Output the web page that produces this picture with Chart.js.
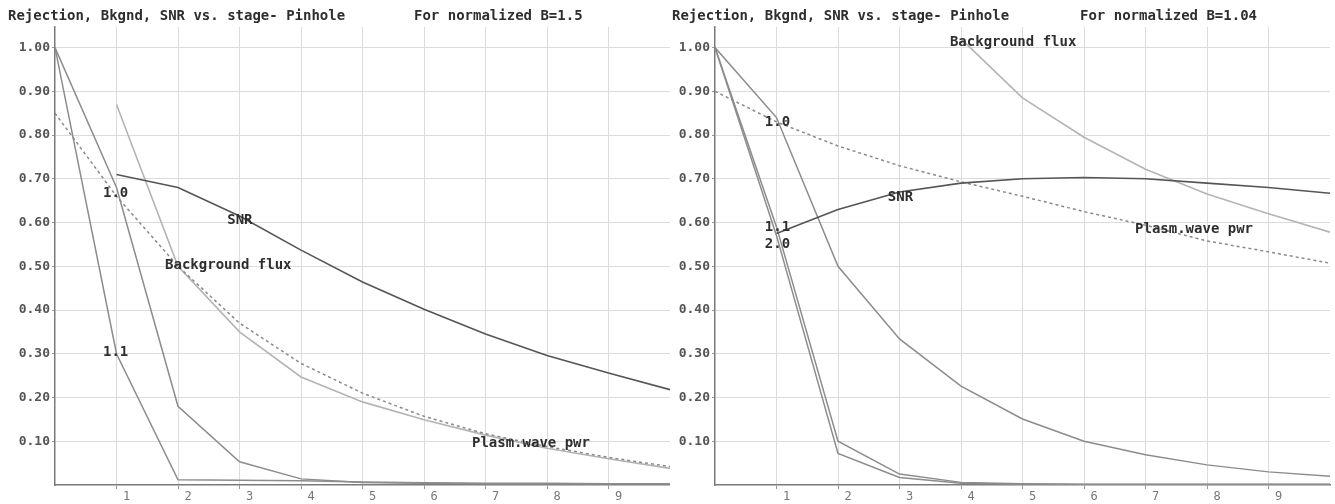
<!DOCTYPE html>
<html><head><meta charset="utf-8">
<script src="https://cdn.jsdelivr.net/npm/chart.js@4/dist/chart.umd.min.js"></script>
<style>
html,body{margin:0;padding:0;background:#fff;width:1335px;height:504px;overflow:hidden}
canvas{position:absolute;top:0}
#cL{left:0}
#cR{left:660px}
</style></head><body>
<canvas id="cL" width="670" height="504"></canvas>
<canvas id="cR" width="675" height="504"></canvas>
<script>
// ---------- data ----------
const stages = [0, 1, 2, 3, 4, 5, 6, 7, 8, 9, 10];
const xTickValues = [1, 2, 3, 4, 5, 6, 7, 8, 9];
const xTickLabels = ['1', '2', '3', '4', '5', '6', '7', '8', '9'];
const yTickValues = [0.1, 0.2, 0.3, 0.4, 0.5, 0.6, 0.7, 0.8, 0.9, 1.0];
const yTickLabels = ['0.10', '0.20', '0.30', '0.40', '0.50', '0.60', '0.70', '0.80', '0.90', '1.00'];

const titleMain = 'Rejection, Bkgnd, SNR vs. stage- Pinhole';
const titleLeft = 'For normalized B=1.5';
const titleRight = 'For normalized B=1.04';

// Left panel, B = 1.5
const leftRej10 = [1.00, 0.68, 0.18, 0.053, 0.014, 0.006, 0.004, 0.003, 0.003, 0.003, 0.003];
const leftRej11 = [1.00, 0.30, 0.012, 0.011, 0.010, 0.007, 0.005, 0.004, 0.004, 0.003, 0.003];
const leftSNR   = [null, 0.71, 0.68, 0.615, 0.537, 0.464, 0.402, 0.345, 0.296, 0.256, 0.218];
const leftBg    = [null, 0.87, 0.50, 0.35, 0.247, 0.19, 0.149, 0.114, 0.084, 0.060, 0.038];
const leftWave  = [0.85, 0.66, 0.50, 0.37, 0.278, 0.21, 0.157, 0.117, 0.088, 0.063, 0.042];

// Right panel, B = 1.04
const rightRej10 = [1.00, 0.84, 0.50, 0.334, 0.226, 0.151, 0.100, 0.069, 0.046, 0.030, 0.020];
const rightRej11 = [1.00, 0.59, 0.100, 0.025, 0.006, 0.003, 0.002, 0.002, 0.002, 0.002, 0.002];
const rightRej20 = [1.00, 0.57, 0.072, 0.017, 0.004, 0.002, 0.001, 0.001, 0.001, 0.001, 0.001];
const rightSNR   = [null, 0.575, 0.63, 0.67, 0.69, 0.70, 0.703, 0.70, 0.69, 0.68, 0.667];
const rightBg    = [null, null, null, null, 1.02, 0.885, 0.795, 0.722, 0.665, 0.62, 0.578];
const rightWave  = [0.90, 0.83, 0.775, 0.73, 0.693, 0.66, 0.625, 0.594, 0.558, 0.533, 0.507];

// curve labels: [text, stage, value]
const leftLabels = [
  ['1.0', 0.78, 0.667], ['1.1', 0.78, 0.304], ['SNR', 2.80, 0.606],
  ['Background flux', 1.79, 0.503], ['Plasm.wave pwr', 6.78, 0.096]
];
const rightLabels = [
  ['Background flux', 3.82, 1.013], ['1.0', 0.81, 0.83], ['1.1', 0.81, 0.59],
  ['2.0', 0.81, 0.549], ['SNR', 2.81, 0.658], ['Plasm.wave pwr', 6.83, 0.585]
];

// ---------- drawing ----------
const MONO = '"DejaVu Sans Mono", "Liberation Mono", monospace';
const pts = arr => stages.map((x, i) => ({x: x, y: arr[i]}));

const textPlugin = {
  id: 'panelText',
  afterDatasetsDraw(chart, args, opts) {
    const ctx = chart.ctx, xs = chart.scales.x, ys = chart.scales.y;
    ctx.save();
    ctx.font = 'bold 14px ' + MONO;
    ctx.fillStyle = '#2e2e2e';
    ctx.textBaseline = 'middle';
    ctx.textAlign = 'left';
    opts.titles.forEach(t => ctx.fillText(t[0], t[1], t[2]));
    opts.labels.forEach(l => ctx.fillText(l[0], xs.getPixelForValue(l[1]), ys.getPixelForValue(l[2])));
    ctx.restore();
  }
};

function line(arr, color, width, dash) {
  return {data: pts(arr), borderColor: color, borderWidth: width, borderDash: dash || [],
          pointRadius: 0, tension: 0, fill: false};
}

function makeChart(id, series, labels, titles, padRight) {
  return new Chart(document.getElementById(id), {
    type: 'line',
    data: {datasets: series},
    plugins: [textPlugin],
    options: {
      responsive: false, animation: false, devicePixelRatio: 1,
      layout: {padding: {top: 27, left: 0, right: padRight, bottom: 0}},
      plugins: {legend: {display: false}, tooltip: {enabled: false},
                panelText: {titles: titles, labels: labels}},
      scales: {
        x: {
          type: 'linear', min: 0, max: 10,
          afterBuildTicks: s => { s.ticks = xTickValues.map(v => ({value: v})); },
          afterFit: s => { s.height = 19; },
          ticks: {callback: (v, i) => xTickLabels[i], color: '#777', labelOffset: 10, padding: 1,
                  maxRotation: 0, autoSkip: false, font: {family: MONO, size: 12}},
          grid: {color: '#dcdcdc', lineWidth: 1, drawTicks: true, tickLength: 4, tickColor: '#999'},
          border: {display: true, color: '#7a7a7a', width: 1.5}
        },
        y: {
          type: 'linear', min: 0, max: 1.047,
          afterBuildTicks: s => { s.ticks = yTickValues.map(v => ({value: v})); },
          afterFit: s => { s.width = 55; },
          ticks: {callback: (v, i) => yTickLabels[i], color: '#555', padding: 2, autoSkip: false,
                  font: {family: MONO, size: 13, weight: 'bold'}},
          grid: {color: '#dcdcdc', lineWidth: 1, drawTicks: true, tickLength: 3, tickColor: '#999'},
          border: {display: true, color: '#7a7a7a', width: 1.5}
        }
      }
    }
  });
}

makeChart('cL', [
  line(leftSNR, '#555', 1.6),
  line(leftRej10, '#8c8c8c', 1.5),
  line(leftRej11, '#8c8c8c', 1.5),
  line(leftWave, '#8a8a8a', 1.5, [3, 3]),
  line(leftBg, '#b4b4b4', 1.6)
], leftLabels, [[titleMain, 8, 16], [titleLeft, 414, 16]], 0);

makeChart('cR', [
  line(rightSNR, '#555', 1.6),
  line(rightRej10, '#8c8c8c', 1.5),
  line(rightRej11, '#8c8c8c', 1.5),
  line(rightRej20, '#8c8c8c', 1.5),
  line(rightWave, '#8a8a8a', 1.5, [3, 3]),
  line(rightBg, '#b4b4b4', 1.6)
], rightLabels, [[titleMain, 12, 16], [titleRight, 420, 16]], 5);
</script>
</body></html>
